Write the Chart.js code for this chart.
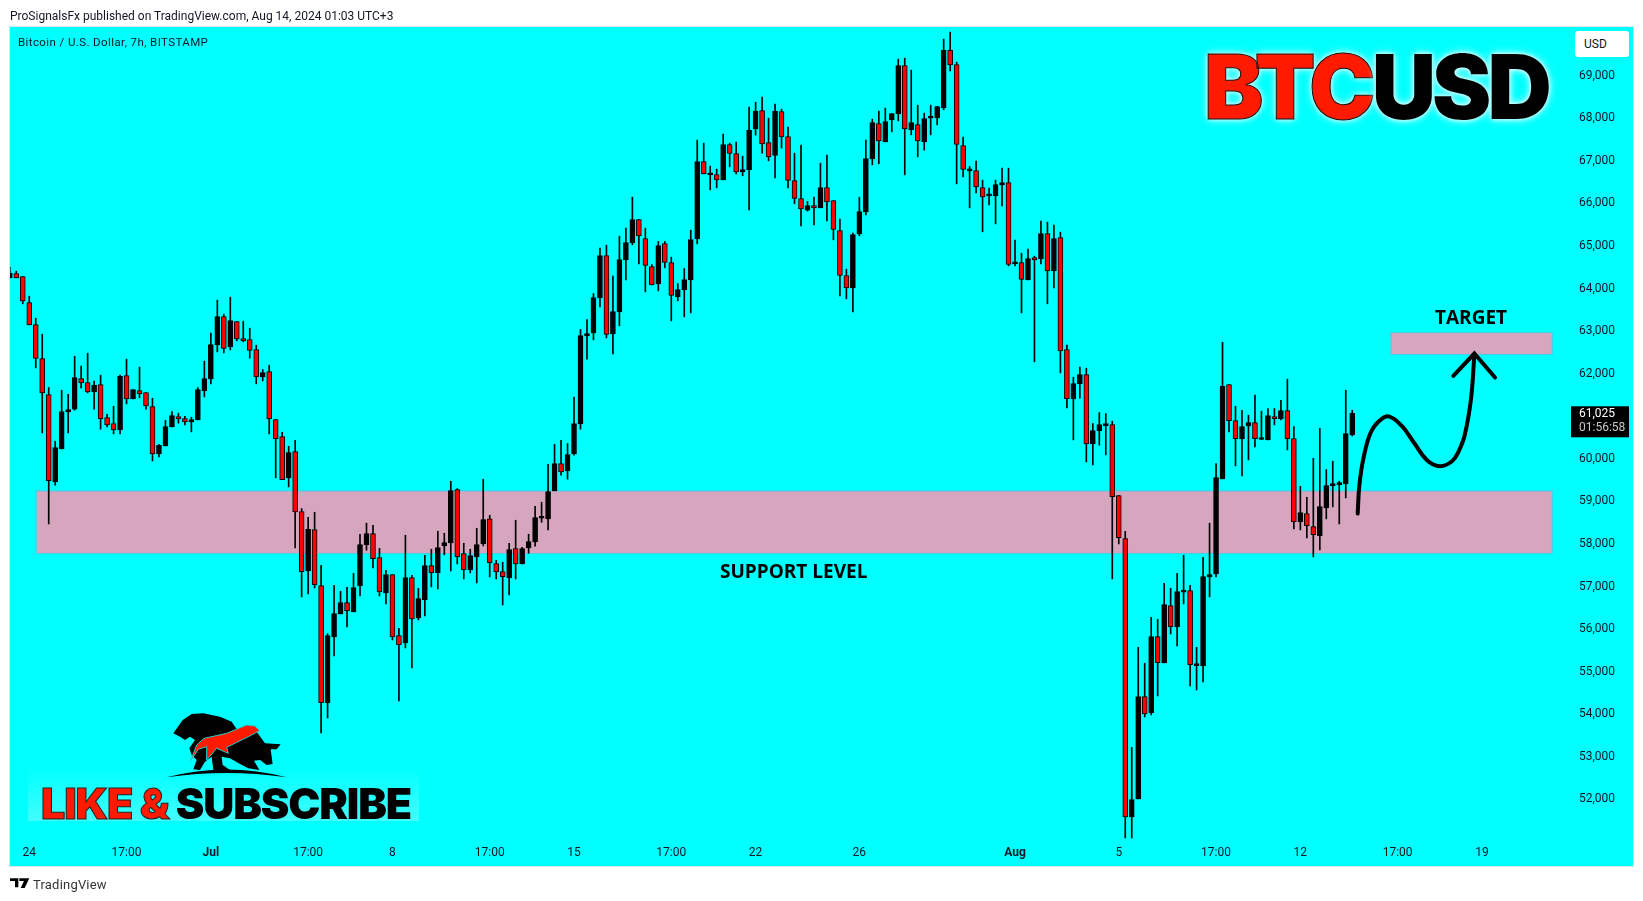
<!DOCTYPE html>
<html>
<head>
<meta charset="utf-8">
<title>BTCUSD</title>
<script src="https://cdn.jsdelivr.net/npm/chart.js@4"></script>
<style>
  html, body { margin: 0; padding: 0; background: #fff; overflow: hidden; }
  #wrap { position: relative; width: 1643px; height: 901px; }
  canvas { position: absolute; left: 0; top: 0; }
  .t { position: absolute; white-space: nowrap; line-height: 1; }
  #head { left: 10px; top: 9px; font: 12px Roboto, sans-serif; color: #131722; }
  #legend { left: 18px; top: 35px; font: 11.5px Roboto, sans-serif; color: #131722; letter-spacing: .4px; }
  #foot { left: 33px; top: 877px; font: 13px Roboto, sans-serif; color: #333; letter-spacing: .2px; }
  #big { left: 1204px; top: 33px; font: 900 89px Inter, sans-serif; letter-spacing: -3.8px; text-shadow: 0 0 8px #e8ffff, 0 0 4px #e8ffff; }
  #big .r { color: #ff1a00; -webkit-text-stroke: 1px #111; }
  #big .k { color: #000; }
  #like { left: 41px; top: 777px; font: 900 43px Inter, sans-serif; letter-spacing: -1.15px; }
  #like .r { color: #ff1a00; -webkit-text-stroke: 1px #222; }
  #like .k { color: #000; }
  #glow { position: absolute; left: 28px; top: 768px; width: 391px; height: 53px;
          background: linear-gradient(to bottom, rgba(210,255,255,0), rgba(190,250,250,.35)); }
  .note { font: 700 19px "Open Sans", sans-serif; color: #000; }
  #support { left: 720px; top: 558px; }
  #target { left: 1435px; top: 304px; }
  #usd { position: absolute; left: 1575px; top: 31px; width: 54px; height: 26px; background: #fff;
         border-radius: 3px; font: 12px/26px Roboto, sans-serif; color: #131722; text-indent: 9px; }
  svg { position: absolute; }
</style>
</head>
<body>
<div id="wrap">
  <canvas id="btcChart" width="1643" height="901"></canvas>
  <div id="glow"></div>
  <svg style="left:0;top:690px" width="450" height="211" viewBox="0 0 1350 633">
    <polygon fill="#000" points="520,130 548,90 575,72 610,70 660,80 695,95 712,120 770,125 795,160 842,163 830,178 812,178 818,222 800,225 780,210 762,212 778,240 745,235 720,222 690,205 665,200 668,225 690,240 640,240 635,200 615,215 600,240 580,238 590,210 575,195 568,175 585,150 570,140 555,150 540,140"/>
    <path fill="#000" d="M500 262 Q680 215 860 262 Q680 236 500 262 Z"/>
    <polygon fill="#ff1a00" stroke="#29c8c8" stroke-width="3" points="572,212 590,165 612,145 680,130 740,105 765,108 778,122 755,135 735,145 680,172 685,190 650,175 620,210 620,170 595,178"/>
    <polygon fill="#000" points="30,565 55,565 55,592 45,592 45,573 30,573"/>
    <polygon fill="#000" points="58,565 88,565 74,594 62,594 72,573 58,573"/>
  </svg>
  <div class="t" id="head">ProSignalsFx published on TradingView.com, Aug 14, 2024 01:03 UTC+3</div>
  <div class="t" id="legend">Bitcoin / U.S. Dollar, 7h, BITSTAMP</div>
  <div class="t" id="foot">TradingView</div>
  <div class="t" id="big"><span class="r">BTC</span><span class="k">USD</span></div>
  <div class="t" id="like"><span class="r">LIKE &amp; </span><span class="k">SUBSCRIBE</span></div>
  <div class="t note" id="support">SUPPORT LEVEL</div>
  <div class="t note" id="target">TARGET</div>
  <div id="usd">USD</div>
</div>
<script>
const opens = [
  64207,64309,64238,63627,63110,62311,61465,59413,60189,61058,
  61121,61841,61747,61528,61700,60925,60784,60635,61912,61363,
  61559,61512,61183,60071,60259,60705,60948,60901,60823,60870,
  61551,61833,62632,63298,62585,63181,62781,62758,62523,61880,
  62006,60878,60478,59507,60126,58716,57321,58293,56977,54220,
  55771,56311,56577,56358,56969,57932,58199,57635,56804,57235,
  55802,55630,57165,56217,56640,57447,57274,57909,57979,59233,
  57729,57345,57650,57956,58543,57494,57306,57157,57846,57486,
  57862,58003,58559,58543,59201,59844,59671,60071,60776,62844,
  62915,63737,64732,62891,63408,64630,65029,65578,65131,64473,
  64066,65014,64567,63760,63925,64160,65123,66941,66627,66635,
  66510,67340,67129,66698,66745,67708,68139,67387,67082,68115,
  67528,66494,66071,65797,65906,65852,66329,66024,65319,64261,
  63971,65240,65757,67003,67833,67402,67919,68060,69196,67684,
  67810,67402,67959,67966,68201,69549,69220,67316,66721,66729,
  66329,66134,66134,66392,66447,64536,64567,64160,64684,64653,
  65248,64371,65154,62523,61363,61716,61935,60306,60611,60729,
  60760,59092,58081,51541,51964,54368,53985,55778,55160,56507,
  56006,56820,56859,55097,55089,57180,57251,59484,61700,60854,
  60423,60729,60807,60408,60400,60948,60901,61089,60431,58473,
  58669,58363,58144,58802,59327,59350,59366,60517
];
const highs = [
  64457,64364,64238,63776,63259,62883,61630,60369,61567,61473,
  62366,62131,62437,61779,61920,61003,61191,61920,62296,61583,
  62108,61512,61379,60298,60862,61066,61027,60956,60933,61630,
  62249,62907,63682,63353,63753,63181,63189,63024,62625,62053,
  62155,60878,60580,60251,60392,58786,58583,58700,57455,55849,
  56985,56844,56938,57267,58183,58442,58395,57854,57337,57235,
  55974,58160,57220,56914,57690,57831,58254,58207,59429,59256,
  57971,57831,58324,59476,58630,57572,57525,57971,58512,57878,
  58183,58841,58935,59828,60298,60392,60314,61403,62993,63228,
  63839,64904,64975,64246,65186,65374,66103,65578,65374,64520,
  65061,65061,64693,64074,64426,65327,67442,67372,66831,66761,
  67583,67372,67395,67066,68217,68334,68452,67958,68288,68170,
  67747,67136,67324,66000,66102,66901,67089,66024,65585,64410,
  65256,66102,67442,67935,68123,68194,68068,69345,69368,69087,
  68264,68076,68264,68233,69815,69980,69275,67512,66823,66948,
  66502,66314,66502,66784,66784,65092,64786,64880,64716,65538,
  65515,65444,65280,62625,61873,62108,62084,60784,61042,61019,
  60839,59092,58254,53178,55528,55152,56233,56186,57032,56914,
  57267,57690,56985,55528,57643,58442,59844,62695,61700,61191,
  61097,60979,61450,61074,61136,61136,61332,61826,60713,59311,
  59053,59969,60674,59703,59899,59429,61567,61097
];
const lows = [
  64207,64207,63596,63102,62092,60564,58426,59335,60189,60564,
  61097,61622,61504,61121,60651,60706,60541,60541,61246,61363,
  61387,61121,59906,60000,60259,60705,60792,60752,60588,60870,
  61410,61716,62468,62444,62515,62726,62703,62319,61716,61786,
  60541,59507,59468,59296,57862,56710,56781,56922,53515,53867,
  55324,56311,56005,56358,56734,57807,57392,56734,56546,55700,
  54267,55512,55042,56170,56264,56945,56899,57697,57321,57486,
  57133,57274,57039,57909,57180,57133,56522,56757,57133,57486,
  57737,57901,58465,58285,59201,59570,59476,60040,60651,62296,
  62750,63525,62797,62421,63079,64160,64982,64536,63878,64042,
  63901,64442,63196,63667,63290,63384,65006,66651,66275,66322,
  66510,66815,66651,66604,65805,67559,67136,66956,66557,67254,
  66322,65946,65428,65773,65452,65852,65546,65100,63784,63713,
  63408,65194,65687,66862,66886,67402,67637,67896,66627,67567,
  67050,67207,67567,67802,68154,69071,66415,66580,65851,66204,
  65288,65922,65475,65899,64489,64489,63384,64160,62234,64535,
  63596,63971,61974,61152,60400,61379,59883,59812,60275,60047,
  57134,57956,51047,51047,51964,53891,53938,54384,55160,55841,
  55559,56546,54619,54525,54713,56711,57180,59484,60588,59789,
  59554,59930,60235,60408,60400,60752,60870,60165,58308,58285,
  58097,57651,57815,58544,58825,58426,59037,60494
];
const closes = [
  64317,64207,63666,63102,62311,61504,59444,60220,61066,61113,
  61865,61739,61528,61685,60901,60752,60635,61896,61363,61583,
  61481,61199,60071,60275,60713,60972,60893,60823,60878,61583,
  61841,62640,63298,62546,63204,62773,62726,62499,61888,61982,
  60901,60431,59468,60102,58708,57306,58301,57000,54227,55802,
  56319,56577,56381,56930,57940,58199,57611,56828,57235,55771,
  55590,57165,56193,56671,57447,57282,57870,57987,59209,57658,
  57353,57682,57940,58528,57517,57298,57188,57823,57486,57846,
  58011,58575,58575,59186,59844,59648,60055,60784,62852,62899,
  63745,64732,62875,63416,64638,65037,65578,65194,64497,64042,
  64967,64567,63792,63933,64168,65108,66941,66651,66659,66510,
  67340,67129,66698,66753,67677,68123,67355,67050,68123,67520,
  66494,66071,65828,65906,65852,66329,65992,65342,64261,63971,
  65225,65765,67011,67857,67426,67880,68068,69196,67708,67857,
  67426,67951,67974,68233,69549,69212,67340,66752,66737,66345,
  66110,66149,66400,66447,64520,64567,64167,64661,64630,65248,
  64371,65131,62491,61371,61724,61935,60306,60619,60760,60784,
  59068,58105,51541,51948,54368,53961,55778,55168,56530,56013,
  56836,56844,55121,55128,57188,57235,59515,61661,60854,60431,
  60713,60807,60431,60431,60972,60901,61089,60431,58473,58692,
  58387,58175,58833,59327,59350,59374,60549,61025
];

const xTickSlots = [3, 18, 31, 46, 59, 74, 87, 102, 115, 131, 155, 171, 186, 199, 214, 227];
const xTickLabels = ['24', '17:00', 'Jul', '17:00', '8', '17:00', '15', '17:00', '22', '26', 'Aug', '5', '17:00', '12', '17:00', '19'];
const yTickValues = [52000, 53000, 54000, 55000, 56000, 57000, 58000, 59000, 60000, 61000, 62000, 63000, 64000, 65000, 66000, 67000, 68000, 69000];

// hand drawn projection and arrow head
const curveSlots = [207.84, 208.1, 208.72, 209.85, 211.29, 212.73, 214.68, 216.58, 218.53, 220.49, 222.39, 223.37, 224.34, 225.32, 225.83];
const curvePrices = [58669, 59334, 59961, 60572, 60862, 60948, 60721, 60321, 59922, 59781, 59898, 60118, 60509, 61371, 62389];
const arrowSlots = [222.59, 225.83, 229.02];
const arrowPrices = [61904, 62428, 61864];

const supportZone = [57729, 59202];
const supportSlots = [4.08, 237.85];
const targetZone = [62405, 62922];
const targetSlots = [212.94, 237.85];

const timer = '01:56:58';
const lastClose = closes[closes.length - 1];
const slots = opens.map((o, i) => i);

const fmt = v => v.toLocaleString('en-US');

const paneBack = {
  id: 'paneBack',
  beforeDraw(chart) {
    const c = chart.ctx;
    c.save();
    c.fillStyle = '#ffffff';
    c.fillRect(0, 0, chart.width, chart.height);
    c.fillStyle = '#00ffff';
    c.fillRect(10, 27, 1623, 839);
    c.strokeStyle = '#dfe7ea';
    c.strokeRect(9.5, 26.5, 1624, 840);
    c.restore();
  },
  beforeDatasetsDraw(chart) {
    const c = chart.ctx, x = chart.scales.x, y = chart.scales.y;
    const box = (s, z) => {
      const l = x.getPixelForValue(s[0]), r = x.getPixelForValue(s[1]);
      const t = y.getPixelForValue(z[1]), b = y.getPixelForValue(z[0]);
      c.fillStyle = '#d5a6bd';
      c.fillRect(l, t, r - l, b - t);
      c.strokeStyle = '#3fd0e8';
      c.lineWidth = 1;
      c.strokeRect(l, t, r - l, b - t);
    };
    box(supportSlots, supportZone);
    box(targetSlots, targetZone);
  },
  afterDraw(chart) {
    const c = chart.ctx, py = chart.scales.y.getPixelForValue(lastClose);
    c.save();
    c.fillStyle = '#000';
    c.fillRect(1571, py - 7, 58, 31);
    c.textBaseline = 'middle';
    c.font = '12px Roboto, sans-serif';
    c.fillStyle = '#fff';
    c.fillText(fmt(lastClose), 1579, py + 1);
    c.fillStyle = '#c8c8c8';
    c.fillText(timer, 1579, py + 15);
    c.restore();
  }
};

new Chart(document.getElementById('btcChart'), {
  type: 'bar',
  data: {
    datasets: [
      {
        type: 'line',
        data: curveSlots.map((s, i) => ({ x: s, y: curvePrices[i] })),
        borderColor: '#000',
        borderWidth: 4,
        borderCapStyle: 'round',
        tension: 0.4,
        pointRadius: 0,
        order: 0
      },
      {
        type: 'line',
        data: arrowSlots.map((s, i) => ({ x: s, y: arrowPrices[i] })),
        borderColor: '#000',
        borderWidth: 4,
        borderCapStyle: 'round',
        pointRadius: 0,
        order: 0
      },
      {
        data: slots.map(i => ({ x: i, y: [opens[i], closes[i]] })),
        backgroundColor: slots.map(i => closes[i] < opens[i] ? '#ff0000' : '#000000'),
        borderColor: '#000',
        borderWidth: 1,
        borderSkipped: false,
        minBarLength: 2,
        grouped: false,
        barPercentage: 1,
        categoryPercentage: 1,
        maxBarThickness: 5,
        order: 1
      },
      {
        data: slots.map(i => ({ x: i, y: [lows[i], highs[i]] })),
        backgroundColor: '#000',
        borderWidth: 0,
        grouped: false,
        barPercentage: 1,
        categoryPercentage: 1,
        maxBarThickness: 1,
        order: 2
      }
    ]
  },
  options: {
    responsive: false,
    animation: false,
    devicePixelRatio: 1,
    layout: { padding: { left: 10, top: 27, right: 10, bottom: 35 } },
    plugins: { legend: { display: false }, tooltip: { enabled: false } },
    scales: {
      x: {
        type: 'linear',
        offset: false,
        min: 0.03,
        max: 241.35,
        grid: { display: false, drawTicks: false },
        border: { display: false },
        afterBuildTicks: s => { s.ticks = xTickSlots.map(v => ({ value: v })); },
        afterFit: s => { s.height = 26; },
        ticks: {
          autoSkip: false,
          maxRotation: 0,
          padding: 6,
          color: '#131722',
          font: ctx => ({ family: 'Roboto, sans-serif', size: 12, weight: ['Jul', 'Aug'].includes(ctx.tick && ctx.tick.label) ? 'bold' : 'normal' }),
          callback: v => xTickLabels[xTickSlots.indexOf(v)]
        }
      },
      y: {
        position: 'right',
        min: 51000,
        max: 70100,
        grid: { display: false, drawTicks: false },
        border: { display: false },
        // labels sit about 2px under the price they name
        afterBuildTicks: s => { s.ticks = yTickValues.map(v => ({ value: v - 45 })); },
        afterFit: s => { s.width = 58; },
        ticks: {
          padding: 4,
          color: '#131722',
          font: { family: 'Roboto, sans-serif', size: 12 },
          callback: v => fmt(Math.round(v / 1000) * 1000)
        }
      }
    }
  },
  plugins: [paneBack]
});
</script>
</body>
</html>
